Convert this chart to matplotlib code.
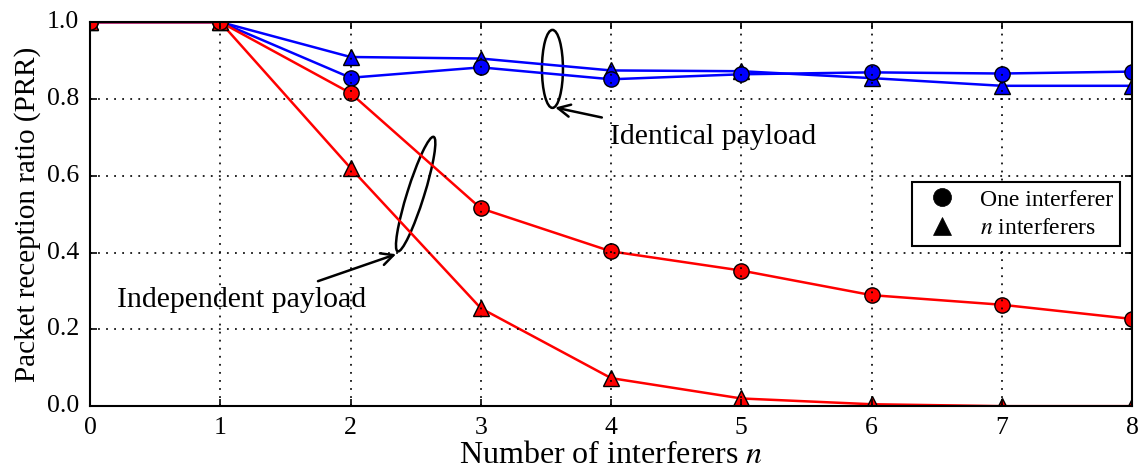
import matplotlib
matplotlib.use("Agg")
import matplotlib.pyplot as plt
from matplotlib.patches import Ellipse
from matplotlib.transforms import ScaledTranslation
import numpy as np

# =========================
# DATA
# =========================
n = [0, 1, 2, 3, 4, 5, 6, 7, 8]

ident_one = [1.0, 1.0, 0.855, 0.882, 0.851, 0.864, 0.869, 0.866, 0.871]
ident_n = [1.0, 1.0, 0.909, 0.905, 0.874, 0.872, 0.854, 0.834, 0.834]
indep_one = [1.0, 1.0, 0.815, 0.515, 0.403, 0.353, 0.289, 0.264, 0.227]
indep_n = [1.0, 1.0, 0.620, 0.255, 0.073, 0.020, 0.005, 0.0, 0.0]

# =========================
# STYLE
# =========================
plt.style.use("classic")
plt.rcParams["font.family"] = ["Liberation Serif", "DejaVu Serif"]
plt.rcParams["mathtext.fontset"] = "stix"
plt.rcParams["figure.facecolor"] = "white"
plt.rcParams["axes.linewidth"] = 1.5

fig = plt.figure(figsize=(11.39, 4.69), dpi=100)
ax = fig.add_axes([0.079, 0.134, 0.915, 0.819])

ms = 11
lw = 1.8
ax.plot(n, ident_n, "b^-", lw=lw, ms=ms, mec="k", mew=1)
ax.plot(n, ident_one, "bo-", lw=lw, ms=ms, mec="k", mew=1)
ax.plot(n, indep_n, "r^-", lw=lw, ms=ms, mec="k", mew=1)
ax.plot(n, indep_one, "ro-", lw=lw, ms=ms, mec="k", mew=1)

# legend with black markers only
ax.plot([], [], "ko", ms=13, label="One interferer")
ax.plot([], [], "k^", ms=13, label="$n$ interferers")
ax.legend(loc="center right", numpoints=1, fontsize=17, handletextpad=0.6,
          borderaxespad=0.5, borderpad=0.3, labelspacing=0.3,
          frameon=True, fancybox=False).get_frame().set_linewidth(1.5)

ax.set_xlim(0, 8)
ax.set_ylim(0, 1.0)
ax.set_xticks(range(0, 9))
ax.set_yticks(np.arange(0, 1.01, 0.2))
ax.tick_params(labelsize=18.5, pad=8, width=1.2, length=5)
ax.grid(True, color="k", linestyle=(0, (1.3, 4.5)), linewidth=1.2)
ax.set_xlabel("Number of interferers $n$", fontsize=23, labelpad=1)
ax.set_ylabel("Packet reception ratio (PRR)", fontsize=21, labelpad=4)

# =========================
# ANNOTATIONS
# =========================
t1 = fig.dpi_scale_trans + ScaledTranslation(3.55, 0.878, ax.transData)
ax.add_patch(Ellipse((0, 0), 0.21, 0.78, angle=0, fill=False, ec="k", lw=1.8,
                     transform=t1, clip_on=False))
t2 = fig.dpi_scale_trans + ScaledTranslation(2.50, 0.552, ax.transData)
ax.add_patch(Ellipse((0, 0), 1.2, 0.17, angle=72.6, fill=False, ec="k", lw=1.8,
                     transform=t2, clip_on=False))

ax.annotate("", xy=(3.55, 0.779), xytext=(3.95, 0.75),
            arrowprops=dict(arrowstyle="->", lw=1.8, color="k",
                            mutation_scale=22))
ax.annotate("", xy=(2.37, 0.398), xytext=(1.73, 0.323),
            arrowprops=dict(arrowstyle="->", lw=1.8, color="k",
                            mutation_scale=22))
ax.text(3.99, 0.70, "Identical payload", fontsize=21.5, va="center", ha="left")
ax.text(0.21, 0.276, "Independent payload", fontsize=21.5, va="center", ha="left")

fig.savefig("out.png", dpi=100, facecolor="white")
